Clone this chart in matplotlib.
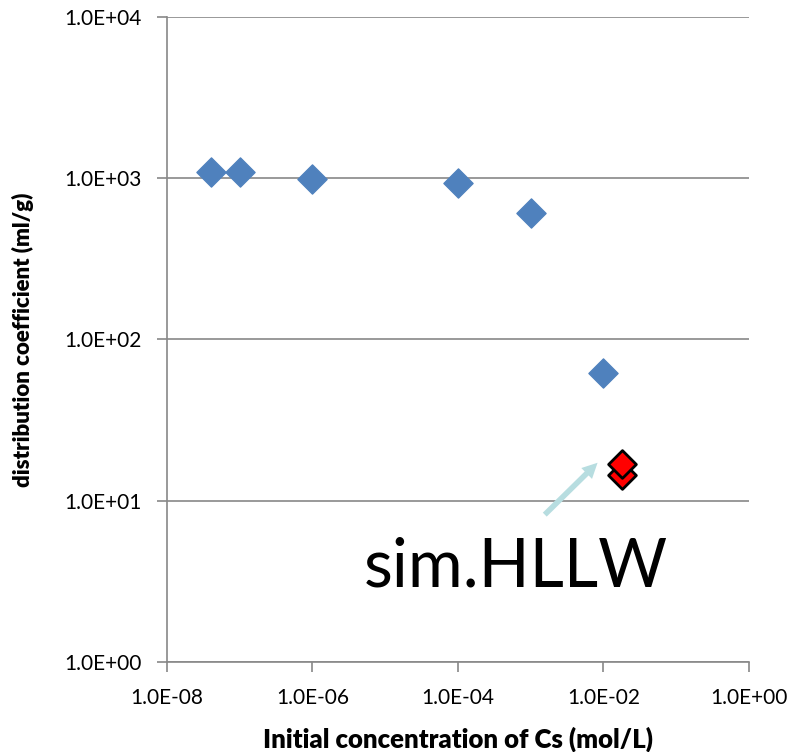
import matplotlib
matplotlib.use('Agg')
import matplotlib.pyplot as plt
from matplotlib.ticker import FixedLocator, NullLocator

# Blue series: Kd vs initial Cs concentration
conc = [4e-8, 1e-7, 1e-6, 1e-4, 1e-3, 1e-2]
kd = [1100, 1100, 990, 930, 610, 62]

# simulated HLLW (red)
conc_hllw = [1.8e-2, 1.8e-2]
kd_hllw = [14.5, 17]

xticks = [1e-8, 1e-6, 1e-4, 1e-2, 1e0]
xlabels = ['1.0E-08', '1.0E-06', '1.0E-04', '1.0E-02', '1.0E+00']
yticks = [1e0, 1e1, 1e2, 1e3, 1e4]
ylabels = ['1.0E+00', '1.0E+01', '1.0E+02', '1.0E+03', '1.0E+04']

plt.rcParams['font.family'] = ['Lato', 'DejaVu Sans']

fig = plt.figure(figsize=(8.01, 7.52), dpi=100)
ax = fig.add_axes([0.2085, 0.1197, 0.7265, 0.8577])

ax.set_xscale('log')
ax.set_yscale('log')
ax.set_xlim(1e-8, 1e0)
ax.set_ylim(1e0, 1e4)

ax.scatter(conc, kd, marker='D', s=220, color='#4f81bd', zorder=3)
ax.scatter(conc_hllw, kd_hllw, marker='D', s=200, facecolor='#ff0000',
           edgecolor='black', linewidth=2, zorder=4)

ax.xaxis.set_major_locator(FixedLocator(xticks))
ax.yaxis.set_major_locator(FixedLocator(yticks))
ax.xaxis.set_minor_locator(NullLocator())
ax.yaxis.set_minor_locator(NullLocator())
ax.set_xticklabels(xlabels, fontsize=15)
ax.set_yticklabels(ylabels, fontsize=15)
ax.tick_params(axis='both', color='#888888', length=7, width=1.2)
ax.tick_params(axis='x', pad=12)
ax.tick_params(axis='y', pad=11)

ax.grid(axis='y', color='#888888', linewidth=1.2)
ax.set_axisbelow(True)
for s in ['top', 'right']:
    ax.spines[s].set_visible(False)
for s in ['left', 'bottom']:
    ax.spines[s].set_color('#888888')
    ax.spines[s].set_linewidth(1.2)

ax.set_xlabel('Initial concentration of Cs (mol/L)', fontsize=18.5, fontweight='heavy', labelpad=13)
ax.set_ylabel('distribution coefficient (ml/g)', fontsize=16, fontweight='heavy', labelpad=22)

ax.annotate('', xy=(8.3e-3, 17.2), xytext=(1.56e-3, 8.2),
            arrowprops=dict(arrowstyle='simple,head_length=1.1,head_width=1.1,tail_width=0.4',
                            color='#b7dde0', lw=0, shrinkA=0, shrinkB=0))
ax.text(6.2e-4, 3.85, 'sim.HLLW', fontsize=48, ha='center', va='center')

fig.savefig('out.png', dpi=100)
